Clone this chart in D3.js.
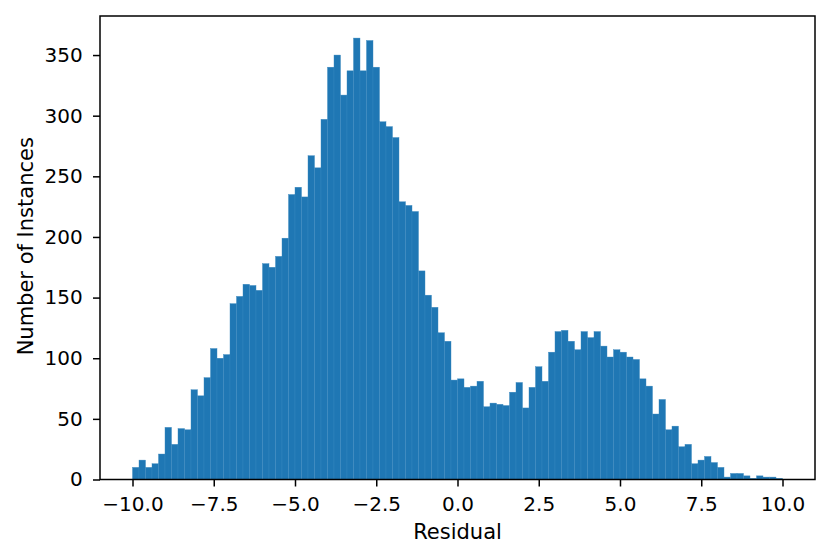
<!DOCTYPE html>
<html>
<head>
<meta charset="utf-8">
<script src="https://cdn.jsdelivr.net/npm/d3@7"></script>
<style>
  html, body { margin: 0; padding: 0; background: #fff; }
  svg { display: block; font-family: "DejaVu Sans", sans-serif; }
</style>
</head>
<body>
<svg id="chart" width="830" height="560"></svg>
<script>
// ---- data ----
const binStart = -10;
const binWidth = 0.2;
const counts = [
  10, 16, 10, 13, 21, 43, 29, 42, 41, 74,
  69, 84, 108, 100, 103, 145, 151, 161, 160, 156,
  178, 175, 184, 199, 235, 241, 233, 267, 257, 297,
  340, 350, 317, 337, 364, 337, 362, 340, 295, 291,
  282, 229, 226, 221, 172, 152, 142, 121, 114, 82,
  83, 76, 77, 81, 60, 63, 62, 61, 72, 80,
  59, 76, 93, 81, 105, 122, 123, 114, 107, 122,
  117, 122, 110, 101, 107, 105, 101, 99, 83, 77,
  54, 66, 41, 44, 27, 29, 13, 16, 19, 14,
  10, 2, 5, 5, 3, 1, 3, 2, 2, 1
];
const xTicks = [-10, -7.5, -5, -2.5, 0, 2.5, 5, 7.5, 10];
const yTicks = [0, 50, 100, 150, 200, 250, 300, 350];
const xLabel = "Residual";
const yLabel = "Number of Instances";

// ---- layout ----
const W = 830, H = 560;
const margin = { left: 100, right: 15, top: 16, bottom: 80.5 };
const pw = W - margin.left - margin.right;
const ph = H - margin.top - margin.bottom;

const bins = counts.map((c, i) => ({ x0: binStart + i * binWidth, x1: binStart + (i + 1) * binWidth, n: c }));

const x = d3.scaleLinear().domain([-11, 11]).range([0, pw]);
const y = d3.scaleLinear().domain([0, d3.max(counts) * 1.05]).range([ph, 0]);

const svg = d3.select("#chart");
const g = svg.append("g").attr("transform", `translate(${margin.left},${margin.top})`);

g.selectAll("rect.bar")
  .data(bins)
  .enter().append("rect")
  .attr("class", "bar")
  .attr("x", d => x(d.x0))
  .attr("width", d => x(d.x1) - x(d.x0))
  .attr("y", d => y(d.n))
  .attr("height", d => y(0) - y(d.n))
  .attr("fill", "#1f77b4")
  .attr("stroke", "#3a88bf")
  .attr("stroke-width", 0.4);

const fontSize = 20;
const labelSize = 21;
const tickLen = 7;

const xAxis = d3.axisBottom(x).tickValues(xTicks).tickSize(tickLen).tickPadding(10.5);
const gx = g.append("g").attr("transform", `translate(0,${ph})`).call(xAxis);
const yAxis = d3.axisLeft(y).tickValues(yTicks).tickFormat(d3.format("d")).tickSize(tickLen).tickPadding(10.3);
const gy = g.append("g").call(yAxis);

[gx, gy].forEach(ax => {
  ax.select(".domain").remove();
  ax.selectAll(".tick line").attr("stroke", "#000").attr("stroke-width", 1.5);
  ax.selectAll(".tick text").attr("fill", "#000").attr("font-size", fontSize).attr("font-family", "DejaVu Sans, sans-serif");
});
// unicode minus like matplotlib
gx.selectAll(".tick text").text(d => d3.format(".1f")(d).replace("-", "\u2212"));

// frame (spines)
g.append("rect")
  .attr("x", 0).attr("y", 0).attr("width", pw).attr("height", ph)
  .attr("fill", "none").attr("stroke", "#000").attr("stroke-width", 1.5);

// axis labels
g.append("text")
  .attr("x", pw / 2).attr("y", ph + 59.5)
  .attr("text-anchor", "middle")
  .attr("font-size", labelSize)
  .attr("fill", "#000")
  .text(xLabel);

g.append("text")
  .attr("transform", `translate(${-margin.left + 33.3},${ph / 2 - 1.5}) rotate(-90)`)
  .attr("text-anchor", "middle")
  .attr("font-size", labelSize)
  .attr("fill", "#000")
  .text(yLabel);
</script>
</body>
</html>
